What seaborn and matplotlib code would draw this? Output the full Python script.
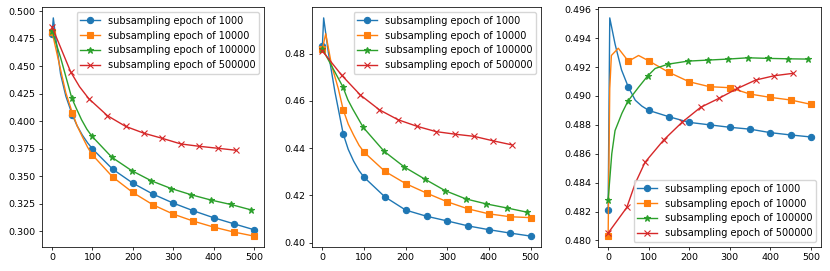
import numpy as np
import pandas as pd
import matplotlib
matplotlib.use("Agg")
import matplotlib.pyplot as plt
import seaborn as sns

# epochs where the markers sit (each run was logged a little differently)
epochs_a = [0, 50, 100, 150, 200, 250, 300, 350, 400, 450, 500]
epochs_g = [0, 49, 98, 148, 197, 246, 295, 345, 394, 443, 492]
epochs_r = [0, 46, 91, 137, 182, 228, 273, 319, 364, 410, 455]

labels = ["subsampling epoch of 1000", "subsampling epoch of 10000",
          "subsampling epoch of 100000", "subsampling epoch of 500000"]
colors = ["#1f77b4", "#ff7f0e", "#2ca02c", "#d62728"]
markers = ["o", "s", "*", "x"]

# panel 1 - values at marker epochs
p1_1000 = [0.479, 0.406, 0.375, 0.3566, 0.3439, 0.3339, 0.3258, 0.3188, 0.3125, 0.307, 0.3016]
p1_10000 = [0.4813, 0.408, 0.3695, 0.3495, 0.3354, 0.3242, 0.3158, 0.3094, 0.304, 0.2995, 0.2958]
p1_100000 = [0.4825, 0.4209, 0.3868, 0.3674, 0.3553, 0.346, 0.339, 0.3333, 0.3285, 0.3245, 0.3197]
p1_500000 = [0.4858, 0.445, 0.4206, 0.4052, 0.3955, 0.3892, 0.3846, 0.3795, 0.3774, 0.3756, 0.3738]
# panel 1 - extra points between markers (curve shape)
p1_1000_ex = ([3, 9, 21, 34, 62, 75, 88], [0.494, 0.476, 0.443, 0.423, 0.396, 0.3875, 0.3805])
p1_10000_ex = ([21, 34, 62, 75, 88], [0.447, 0.426, 0.396, 0.386, 0.3765])
p1_100000_ex = ([21, 61, 73, 86], [0.458, 0.411, 0.4015, 0.393])
p1_500000_ex = ([68], [0.4315])

# panel 2
p2_1000 = [0.4834, 0.446, 0.4277, 0.4194, 0.4138, 0.4112, 0.4092, 0.4071, 0.4055, 0.4041, 0.4028]
p2_10000 = [0.482, 0.4562, 0.4383, 0.4302, 0.425, 0.421, 0.4173, 0.4143, 0.4122, 0.411, 0.4106]
p2_100000 = [0.482, 0.466, 0.4488, 0.4387, 0.432, 0.4269, 0.422, 0.4185, 0.4164, 0.4147, 0.4129]
p2_500000 = [0.4811, 0.4709, 0.4625, 0.4562, 0.452, 0.4492, 0.447, 0.4459, 0.445, 0.4431, 0.4414]
p2_1000_ex = ([3, 14, 30, 62, 75, 88], [0.4951, 0.4807, 0.4639, 0.4395, 0.4345, 0.4305])
p2_10000_ex = ([8, 22, 38, 62, 75, 88], [0.4884, 0.4751, 0.4653, 0.4502, 0.4455, 0.4412])
p2_100000_ex = ([61, 73, 86], [0.4605, 0.4565, 0.4525])
p2_500000_ex = ([], [])

# panel 3
p3_1000 = [0.4821, 0.4906, 0.489, 0.48856, 0.48817, 0.488, 0.48783, 0.4877, 0.48746, 0.4873, 0.48716]
p3_10000 = [0.4803, 0.4924, 0.49243, 0.49163, 0.49098, 0.49064, 0.49057, 0.49013, 0.4899, 0.48972, 0.48942]
p3_100000 = [0.4828, 0.48965, 0.4914, 0.4922, 0.49241, 0.49248, 0.49255, 0.49264, 0.4926, 0.49257, 0.49255]
p3_500000 = [0.48051, 0.48228, 0.48541, 0.48695, 0.48817, 0.48921, 0.48983, 0.49052, 0.4911, 0.4914, 0.49156]
p3_1000_ex = ([4, 17, 33, 67, 83], [0.4954, 0.4936, 0.4918, 0.4897, 0.4893])
p3_10000_ex = ([4, 8, 25, 75], [0.4905, 0.4928, 0.4933, 0.4928])
p3_100000_ex = ([9, 17, 34, 75, 116], [0.486, 0.4876, 0.4888, 0.4906, 0.4919])
p3_500000_ex = ([67], [0.48396])

panels = [
    [(epochs_a, p1_1000, p1_1000_ex), (epochs_a, p1_10000, p1_10000_ex),
     (epochs_g, p1_100000, p1_100000_ex), (epochs_r, p1_500000, p1_500000_ex)],
    [(epochs_a, p2_1000, p2_1000_ex), (epochs_a, p2_10000, p2_10000_ex),
     (epochs_g, p2_100000, p2_100000_ex), (epochs_r, p2_500000, p2_500000_ex)],
    [(epochs_a, p3_1000, p3_1000_ex), (epochs_a, p3_10000, p3_10000_ex),
     (epochs_g, p3_100000, p3_100000_ex), (epochs_r, p3_500000, p3_500000_ex)],
]
legend_loc = ["upper right", "upper right", "lower right"]


def build(mx, my, extra):
    ex, ey = extra
    df = pd.DataFrame({
        "x": list(mx) + list(ex),
        "y": list(my) + list(ey),
        "mark": [True] * len(mx) + [False] * len(ex),
    }).sort_values("x").reset_index(drop=True)
    return df, list(df.index[df["mark"]])


fig = plt.figure(figsize=(8.3, 2.71), dpi=100)
rects = [
    [42 / 830, 24 / 271, 222 / 830, 240 / 271],
    [312 / 830, 24 / 271, 229 / 830, 240 / 271],
    [598 / 830, 24 / 271, 223 / 830, 240 / 271],
]

for rect, series, loc in zip(rects, panels, legend_loc):
    ax = fig.add_axes(rect)
    for (mx, my, extra), lab, c, m in zip(series, labels, colors, markers):
        df, idx = build(mx, my, extra)
        ms = 5.0 if m == "*" else 4.5
        sns.lineplot(data=df, x="x", y="y", ax=ax, color=c, marker=m, markevery=idx,
                     markersize=ms, markeredgecolor=c, markeredgewidth=0.8,
                     linewidth=1.0, label=lab, legend=False)
    ax.set_xlabel("")
    ax.set_ylabel("")
    ax.set_xticks([0, 100, 200, 300, 400, 500])
    ax.tick_params(labelsize=6.8, length=2.3, width=0.55, pad=2.3)
    for s in ax.spines.values():
        s.set_linewidth(0.55)
    ax.legend(loc=loc, fontsize=7.0)

fig.savefig("out.png", dpi=100)
